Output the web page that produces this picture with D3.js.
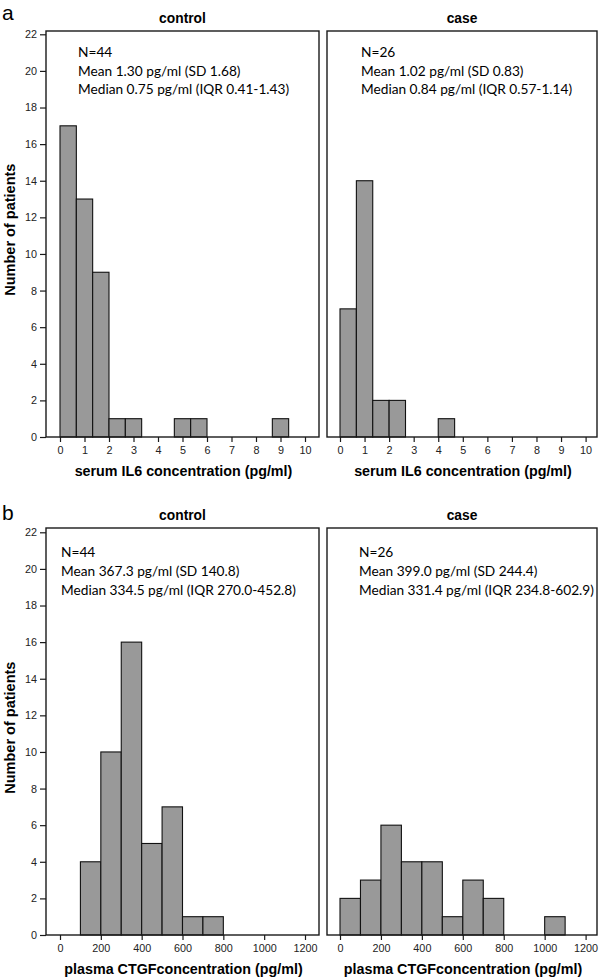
<!DOCTYPE html>
<html>
<head>
<meta charset="utf-8">
<script src="https://cdn.jsdelivr.net/npm/d3@7"></script>
<style>
  html, body { margin: 0; padding: 0; background: #fff; }
  svg { display: block; }
</style>
</head>
<body>
<svg id="chart" width="600" height="978"></svg>
<script>
// ---------------- DATA ----------------
const groups = ["control", "case"];
const yTicks = [0, 2, 4, 6, 8, 10, 12, 14, 16, 18, 20, 22];

// Panel a: serum IL6 (bin width 2/3 pg/ml)
const il6BinEdges = [0, 0.667, 1.333, 2, 2.667, 3.333, 4, 4.667, 5.333, 6, 6.667, 7.333, 8, 8.667, 9.333, 10];
const il6ControlCounts = [17, 13, 9, 1, 1, 0, 0, 1, 1, 0, 0, 0, 0, 1, 0];
const il6CaseCounts    = [7, 14, 2, 2, 0, 0, 1, 0, 0, 0, 0, 0, 0, 0, 0];
const il6Ticks = [0, 1, 2, 3, 4, 5, 6, 7, 8, 9, 10];
const il6XLabel = "serum IL6 concentration (pg/ml)";
const il6ControlStats = ["N=44", "Mean 1.30 pg/ml (SD 1.68)", "Median 0.75 pg/ml (IQR 0.41-1.43)"];
const il6CaseStats    = ["N=26", "Mean 1.02 pg/ml (SD 0.83)", "Median 0.84 pg/ml (IQR 0.57-1.14)"];

// Panel b: plasma CTGF (bin width 100 pg/ml)
const ctgfBinEdges = [0, 100, 200, 300, 400, 500, 600, 700, 800, 900, 1000, 1100, 1200];
const ctgfControlCounts = [0, 4, 10, 16, 5, 7, 1, 1, 0, 0, 0, 0];
const ctgfCaseCounts    = [2, 3, 6, 4, 4, 1, 3, 2, 0, 0, 1, 0];
const ctgfTicks = [0, 200, 400, 600, 800, 1000, 1200];
const ctgfXLabel = "plasma CTGFconcentration (pg/ml)";
const ctgfControlStats = ["N=44", "Mean 367.3 pg/ml (SD 140.8)", "Median 334.5 pg/ml (IQR 270.0-452.8)"];
const ctgfCaseStats    = ["N=26", "Mean 399.0 pg/ml (SD 244.4)", "Median 331.4 pg/ml (IQR 234.8-602.9)"];

const yLabel = "Number of patients";

// ---------------- DRAWING ----------------
const svg = d3.select("#chart");
const AX = "#1a1a1a";
const tickFont = "'Liberation Sans', Arial, sans-serif";
const statFont = "Lato, 'Open Sans', sans-serif";

function drawRow(cfg) {
  const { top, bottom, frameTop, edges, counts, ticks, xLabel, stats, letter, letterY, statX, statY } = cfg;
  const y = d3.scaleLinear().domain([0, 22]).range([bottom, top]);
  const frames = [[46, 319], [327, 597]];
  const xRanges = [[60, 305], [340, 585.6]];

  svg.append("text").attr("x", 2).attr("y", letterY)
    .attr("font-family", tickFont).attr("font-size", 21).attr("fill", "#000").text(letter);

  svg.append("text")
    .attr("transform", `translate(15,${(top + bottom) / 2 - 6}) rotate(-90)`)
    .attr("text-anchor", "middle")
    .attr("font-family", tickFont).attr("font-weight", "bold").attr("font-size", 14.5)
    .attr("fill", "#000").text(yLabel);

  groups.forEach((grp, gi) => {
    const [fl, fr] = frames[gi];
    const x = d3.scaleLinear().domain([edges[0], edges[edges.length - 1]]).range(xRanges[gi]);
    const g = svg.append("g");

    g.append("text").attr("x", (fl + fr) / 2).attr("y", frameTop - 8)
      .attr("text-anchor", "middle").attr("font-family", tickFont)
      .attr("font-weight", "bold").attr("font-size", 13.8).attr("fill", "#000").text(grp);

    const binData = counts[gi].map((c, i) => ({ x0: edges[i], x1: edges[i + 1], c })).filter(d => d.c > 0);
    g.selectAll("rect.bar").data(binData).join("rect")
      .attr("class", "bar")
      .attr("x", d => x(d.x0)).attr("width", d => x(d.x1) - x(d.x0))
      .attr("y", d => y(d.c)).attr("height", d => y(0) - y(d.c))
      .attr("fill", "#999999").attr("stroke", "#111").attr("stroke-width", 1.1);

    g.append("rect").attr("x", fl).attr("y", frameTop).attr("width", fr - fl).attr("height", bottom - frameTop)
      .attr("fill", "none").attr("stroke", AX).attr("stroke-width", 1.4);

    const xAxis = d3.axisBottom(x).tickValues(ticks).tickSize(5).tickPadding(4).tickFormat(d3.format("d"));
    const xa = g.append("g").attr("transform", `translate(0,${bottom})`).call(xAxis);
    xa.select(".domain").remove();
    xa.selectAll("line").attr("stroke", AX).attr("stroke-width", 1.2);
    xa.selectAll("text").attr("font-family", tickFont).attr("font-size", 10.8).attr("fill", "#222");

    g.append("text").attr("x", (fl + fr) / 2 + 1).attr("y", cfg.xLabelY)
      .attr("text-anchor", "middle").attr("font-family", tickFont)
      .attr("font-weight", "bold").attr("font-size", 14.3).attr("fill", "#000").text(xLabel);

    if (gi === 0) {
      const yAxis = d3.axisLeft(y).tickValues(yTicks).tickSize(6).tickPadding(3);
      const ya = g.append("g").attr("transform", `translate(${fl},0)`).call(yAxis);
      ya.select(".domain").remove();
      ya.selectAll("line").attr("stroke", AX).attr("stroke-width", 1.2);
      ya.selectAll("text").attr("font-family", tickFont).attr("font-size", 10.8).attr("fill", "#222");
    }

    stats[gi].forEach((s, i) => {
      g.append("text").attr("x", statX[gi]).attr("y", statY + i * 18.6)
        .attr("font-family", statFont).attr("font-size", 13.7).attr("fill", "#000").text(s);
    });
  });
}

drawRow({
  top: 34.3, bottom: 437, frameTop: 31, edges: il6BinEdges,
  counts: [il6ControlCounts, il6CaseCounts], ticks: il6Ticks, xLabel: il6XLabel,
  stats: [il6ControlStats, il6CaseStats], letter: "a", letterY: 20,
  statX: [78, 361], statY: 57, xLabelY: 476
});

drawRow({
  top: 532.3, bottom: 935, frameTop: 528, edges: ctgfBinEdges,
  counts: [ctgfControlCounts, ctgfCaseCounts], ticks: ctgfTicks, xLabel: ctgfXLabel,
  stats: [ctgfControlStats, ctgfCaseStats], letter: "b", letterY: 520,
  statX: [61, 359], statY: 557.3, xLabelY: 974
});
</script>
</body>
</html>
